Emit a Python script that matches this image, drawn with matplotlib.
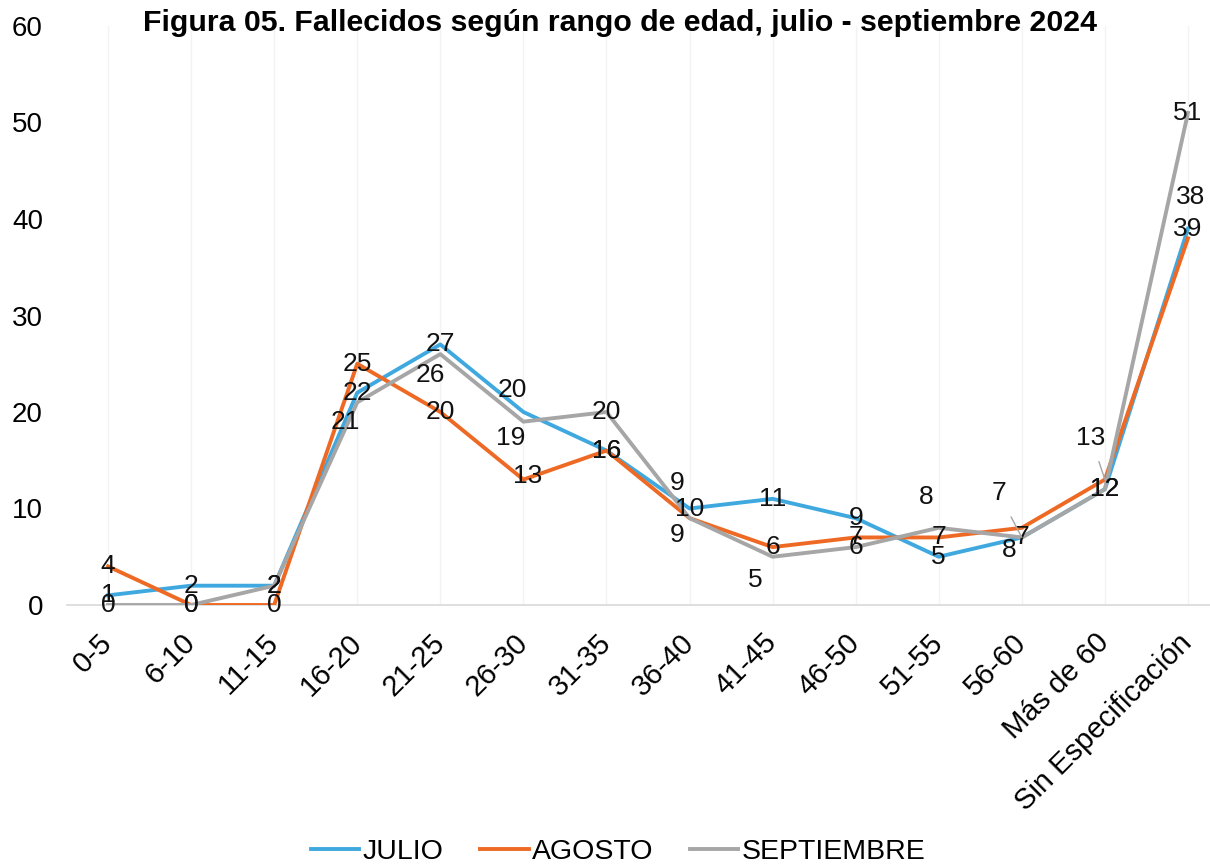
import matplotlib
matplotlib.use("Agg")
import matplotlib.pyplot as plt

plt.rcParams['font.family'] = ['Liberation Sans', 'DejaVu Sans']

categories = ["0-5", "6-10", "11-15", "16-20", "21-25", "26-30", "31-35",
              "36-40", "41-45", "46-50", "51-55", "56-60", "Más de 60",
              "Sin Especificación"]
julio = [1, 2, 2, 22, 27, 20, 16, 10, 11, 9, 5, 7, 12, 39]
agosto = [4, 0, 0, 25, 20, 13, 16, 9, 6, 7, 7, 8, 13, 38]
septiembre = [0, 0, 2, 21, 26, 19, 20, 9, 5, 6, 8, 7, 12, 51]
series_names = ["JULIO", "AGOSTO", "SEPTIEMBRE"]
title = "Figura 05. Fallecidos según rango de edad, julio - septiembre 2024"

colors = ["#3FA9DF", "#EE6A24", "#A6A6A6"]

# label offsets in pixels (dx right, dy down) for manually moved labels
label_offsets = {
    (2, 3): (-12, 20),
    (2, 4): (-10, 21),
    (0, 5): (-11, -22),
    (2, 5): (-13, 16),
    (1, 5): (4, -4),
    (2, 7): (-12, -35),
    (1, 7): (-12, 17),
    (2, 8): (-17, 23),
    (2, 10): (-13, -31),
    (2, 11): (-23, -44),
    (1, 11): (-13, 22),
    (1, 12): (-14, -42),
    (1, 13): (3, -41),
}
leaders = {(2, 11), (1, 12)}

fig = plt.figure(figsize=(12.1, 8.67), dpi=100)
ax = fig.add_axes([66.5 / 1210, 1 - 605 / 867, 1163 / 1210, 579 / 867])

x = list(range(len(categories)))
all_series = [julio, agosto, septiembre]
lines = []
for s, vals in enumerate(all_series):
    ln, = ax.plot(x, vals, color=colors[s], lw=2.8, solid_joinstyle='round',
                  label=series_names[s], zorder=3 + s)
    lines.append(ln)

for s, vals in enumerate(all_series):
    for i, v in enumerate(vals):
        dx, dy = label_offsets.get((s, i), (0, 0))
        kw = {}
        if (s, i) in leaders:
            kw['arrowprops'] = dict(arrowstyle='-', color='#a6a6a6', lw=1,
                                    shrinkA=7, shrinkB=0)
        ax.annotate(str(v), xy=(i, v), xytext=(dx * 0.72, -dy * 0.72),
                    textcoords='offset points', ha='center', va='center',
                    fontsize=19, color='#111111', zorder=10, **kw)

ax.set_xlim(-0.5, 13.5)
ax.set_ylim(0, 60)
ax.set_yticks(range(0, 61, 10))
ax.set_xticks(x)
ax.set_xticklabels(categories, rotation=45, ha='right', va='center',
                   rotation_mode='anchor')
ax.tick_params(axis='y', length=0, labelsize=20, pad=17)
ax.tick_params(axis='x', length=0, labelsize=21, pad=24)
for sp in ['top', 'right', 'left']:
    ax.spines[sp].set_visible(False)
ax.spines['bottom'].set_color('#d9d9d9')
ax.spines['bottom'].set_linewidth(1.2)
ax.grid(axis='x', color='#f3f3f3', lw=1)
ax.set_axisbelow(True)

fig.text(620 / 1210, 1 - 23 / 867, title, ha='center', va='center',
         fontsize=21.8, fontweight='bold')

fig.legend(handles=lines, loc='center', bbox_to_anchor=(618 / 1210, 1 - 852 / 867),
           ncol=3, frameon=False, fontsize=20.5, handlelength=1.7,
           handletextpad=0.1, columnspacing=1.3)

fig.savefig("out.png", dpi=100)
